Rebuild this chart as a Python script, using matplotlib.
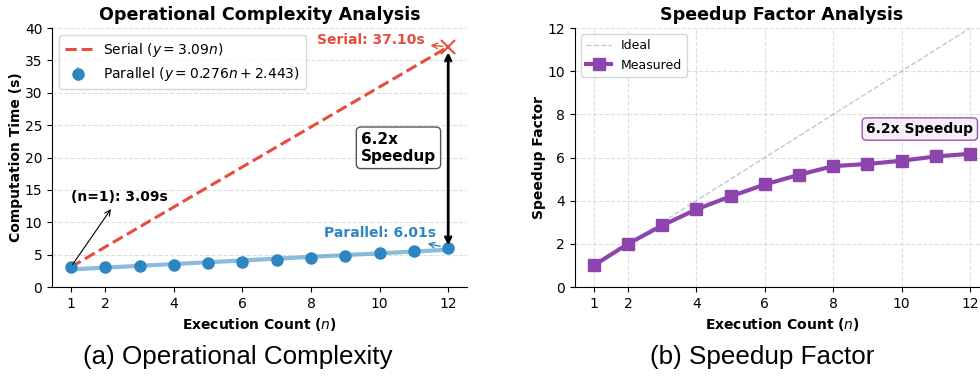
import numpy as np
import matplotlib
matplotlib.use("Agg")
import matplotlib.pyplot as plt

# ---------------- dados ----------------
n = [1, 2, 3, 4, 5, 6, 7, 8, 9, 10, 11, 12]
t_parallel = [3.09, 3.02, 3.25, 3.45, 3.68, 3.90, 4.12, 4.41, 4.85, 5.26, 5.62, 6.01]
err_parallel = [0.08, 0.08, 0.08, 0.08, 0.08, 0.08, 0.08, 0.08, 0.08, 0.08, 0.08, 0.08]
speedup = [1.0, 2.0, 2.85, 3.6, 4.2, 4.75, 5.2, 5.6, 5.7, 5.85, 6.05, 6.17]

serial_slope = 3.09
par_slope = 0.276
par_inter = 2.443
serial_end = 37.10
par_end = 6.01

xticks = [1, 2, 4, 6, 8, 10, 12]

RED = '#e74c3c'
BLUE = '#2e86c1'
PURPLE = '#8e44ad'

plt.rcParams['font.family'] = 'DejaVu Sans'

fig = plt.figure(figsize=(9.8, 3.76), dpi=100)
ax1 = fig.add_axes([0.0531, 0.2367, 0.4235, 0.6888])
ax2 = fig.add_axes([0.5867, 0.2367, 0.4224, 0.6888])

# ---------------- (a) ----------------
nn = np.array(n)
ax1.plot(nn, serial_slope * nn, '--', color=RED, lw=2.2,
         label=r'Serial ($y = 3.09n$)')
ax1.plot(nn, par_slope * nn + par_inter, '-', color=BLUE, lw=3, alpha=0.55)
ax1.errorbar(n, t_parallel, yerr=err_parallel, fmt='o', color=BLUE, ms=8,
             ecolor='#85c1e9', elinewidth=1.5, capsize=0,
             label=r'Parallel ($y = 0.276n + 2.443$)')
ax1.plot([12], [serial_end], 'x', color=RED, ms=10, mew=1.5)

ax1.annotate('Serial: 37.10s', xy=(12, serial_end), xytext=(9.75, 38.1),
             color=RED, fontsize=10, fontweight='bold', ha='center', va='center',
             arrowprops=dict(arrowstyle='<-', color=RED, lw=1, shrinkB=4))
ax1.annotate('Parallel: 6.01s', xy=(12, par_end), xytext=(10.0, 8.3),
             color=BLUE, fontsize=10, fontweight='bold', ha='center', va='center',
             arrowprops=dict(arrowstyle='<-', color=BLUE, lw=1, shrinkB=6))
ax1.annotate('(n=1): 3.09s', xy=(1, 3.09), xytext=(1.0, 13.9),
             fontsize=10, fontweight='bold', ha='left', va='center',
             arrowprops=dict(arrowstyle='<-', color='black', lw=0.8))
ax1.annotate('', xy=(12, serial_end), xytext=(12, par_end),
             arrowprops=dict(arrowstyle='<->', color='black', lw=2,
                             shrinkA=2, shrinkB=4))
ax1.text(10.55, 21.5, '6.2x\nSpeedup', fontsize=11, fontweight='bold',
         ha='center', va='center', multialignment='left',
         bbox=dict(boxstyle='round,pad=0.3', fc='white', ec='#555555'))

ax1.set_ylim(0, 40)
ax1.set_yticks(np.arange(0, 41, 5))
ax1.set_xticks(xticks)
ax1.grid(axis='y', ls='--', alpha=0.4)
ax1.spines['top'].set_visible(False)
ax1.spines['right'].set_visible(False)
ax1.set_title('Operational Complexity Analysis', fontsize=12.6, fontweight='bold')
ax1.set_xlabel(r'Execution Count ($n$)', fontsize=10, fontweight='bold')
ax1.set_ylabel('Computation Time (s)', fontsize=10, fontweight='bold', labelpad=1)
ax1.legend(loc='upper left', fontsize=10)

# ---------------- (b) ----------------
ax2.plot(n, n, '--', color='#95a5a6', lw=1, alpha=0.6, label='Ideal')
ax2.plot(n, speedup, '-s', color=PURPLE, lw=3, ms=8, label='Measured')
ax2.text(10.53, 7.32, '6.2x Speedup', fontsize=10, fontweight='bold',
         ha='center', va='center',
         bbox=dict(boxstyle='round,pad=0.3', fc='#f4ecf7', ec=PURPLE, alpha=0.9))
ax2.set_ylim(0, 12)
ax2.set_yticks(np.arange(0, 13, 2))
ax2.set_xticks(xticks)
ax2.grid(ls='--', alpha=0.4)
ax2.spines['top'].set_visible(False)
ax2.spines['right'].set_visible(False)
ax2.set_title('Speedup Factor Analysis', fontsize=12.6, fontweight='bold')
ax2.set_xlabel(r'Execution Count ($n$)', fontsize=10, fontweight='bold')
ax2.set_ylabel('Speedup Factor', fontsize=10, fontweight='bold', labelpad=1)
ax2.legend(loc='upper left', fontsize=9)

# legendas das subfiguras
fig.text(238 / 980, 1 - 357 / 376, '(a) Operational Complexity',
         fontsize=18.7, family='Liberation Sans', ha='center', va='center')
fig.text(762 / 980, 1 - 357 / 376, '(b) Speedup Factor',
         fontsize=18.7, family='Liberation Sans', ha='center', va='center')

fig.savefig('out.png', dpi=100)
